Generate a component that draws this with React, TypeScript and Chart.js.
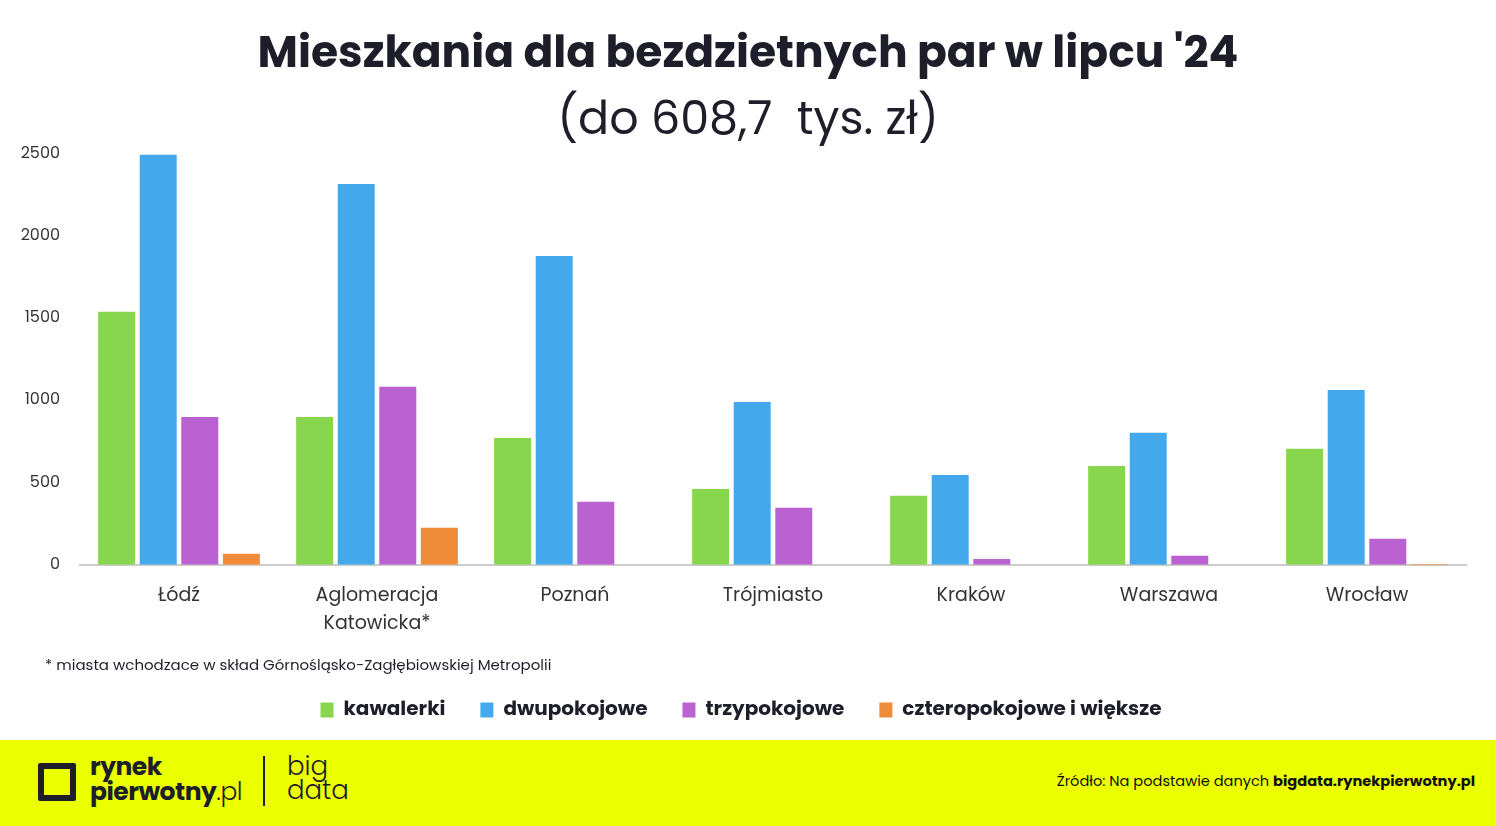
import React, { useEffect, useRef } from "react";
import { Chart, registerables } from "chart.js";

Chart.register(...registerables);

const categories: (string | string[])[] = ["Łódź", ["Aglomeracja", "Katowicka*"], "Poznań", "Trójmiasto", "Kraków", "Warszawa", "Wrocław"];
const kawalerki = [1540, 900, 772, 462, 420, 602, 706];
const dwupokojowe = [2495, 2318, 1880, 991, 547, 803, 1064];
const trzypokojowe = [900, 1083, 383, 347, 36, 55, 158];
const czteropokojowe = [67, 225, 0, 0, 0, 0, 5];
const yTicks = [0, 500, 1000, 1500, 2000, 2500];

const FONT = "Poppins, 'Open Sans', Inter, sans-serif";

const legendShift = {
  id: "legendShift",
  afterLayout(chart: any) {
    if (chart.legend) {
      chart.legend.left -= 7;
      chart.legend.right -= 7;
    }
  },
};

export default function App() {
  const ref = useRef<HTMLCanvasElement | null>(null);
  useEffect(() => {
    document.body.style.margin = "0";
    const chart = new Chart(ref.current!, {
      type: "bar",
      data: {
        labels: categories,
        datasets: [
          { label: "kawalerki", data: kawalerki, backgroundColor: "#88d64d" },
          { label: "dwupokojowe", data: dwupokojowe, backgroundColor: "#44a9ec" },
          { label: "trzypokojowe", data: trzypokojowe, backgroundColor: "#bb62d2" },
          { label: "czteropokojowe i większe", data: czteropokojowe, backgroundColor: "#f08c38" },
        ],
      },
      plugins: [legendShift],
      options: {
        animation: false,
        responsive: false,
        maintainAspectRatio: false,
        layout: { padding: { left: 30, right: 30, top: 16, bottom: 10 } },
        datasets: { bar: { categoryPercentage: 0.84, barPercentage: 0.89 } },
        plugins: {
          title: {
            display: true,
            text: "Mieszkania dla bezdzietnych par w lipcu '24",
            color: "#1e1e2a",
            font: { family: FONT, size: 44, weight: "bold" },
            padding: { top: 14, bottom: 10 },
          },
          subtitle: {
            display: true,
            text: "(do 608,7  tys. zł)",
            color: "#1e1e2a",
            font: { family: FONT, size: 46, weight: "normal" },
            padding: { top: 2, bottom: 4 },
          },
          legend: {
            position: "bottom",
            title: { display: true, text: "", font: { size: 1 }, padding: { top: 8, bottom: 0 } },
            labels: {
              boxWidth: 13,
              boxHeight: 15,
              padding: 35,
              color: "#1e1e2a",
              font: { family: FONT, size: 20, weight: "bold" },
            },
          },
          tooltip: { enabled: false },
        },
        scales: {
          x: {
            grid: { display: false, drawTicks: false },
            border: { color: "#cccccc", width: 2 },
            ticks: { color: "#333333", font: { family: FONT, size: 19, lineHeight: 1.5 }, padding: 17 },
          },
          y: {
            min: 0,
            max: 2500,
            afterBuildTicks: (axis: any) => {
              axis.ticks = yTicks.map((v) => ({ value: v }));
            },
            afterFit: (axis: any) => {
              axis.width = 50;
              axis._computeLabelArea = () => undefined;
            },
            grid: { display: false, drawTicks: false },
            border: { display: false },
            ticks: {
              color: "#333333",
              font: { family: FONT, size: 16 },
              padding: 20,
              callback: (v: any) => String(v),
            },
          },
        },
      },
    });
    return () => chart.destroy();
  }, []);

  return (
    <div style={{ position: "relative", width: 1496, height: 826, background: "#fff", overflow: "hidden", fontFamily: FONT }}>
      <canvas ref={ref} width={1496} height={740} style={{ position: "absolute", left: 0, top: 0 }} />
      <div style={{ position: "absolute", left: 45, top: 653, fontSize: 15, color: "#1e1e2a" }}>
        * miasta wchodzace w skład Górnośląsko-Zagłębiowskiej Metropolii
      </div>
      <div style={{ position: "absolute", left: 0, top: 740, width: 1496, height: 86, background: "#ebff00" }}>
        <div style={{ position: "absolute", left: 38, top: 23, width: 26, height: 26, border: "6px solid #1e1e2a", borderRadius: 2 }} />
        <div style={{ position: "absolute", left: 90, top: 14, fontSize: 25, lineHeight: "25px", fontWeight: 700, color: "#1e1e2a", letterSpacing: -0.5 }}>
          rynek
          <br />
          pierwotny<span style={{ fontWeight: 300 }}>.pl</span>
        </div>
        <div style={{ position: "absolute", left: 263, top: 16, width: 1.5, height: 50, background: "#1e1e2a" }} />
        <div style={{ position: "absolute", left: 287, top: 14, fontSize: 26, lineHeight: "24px", fontWeight: 300, color: "#1e1e2a" }}>
          big
          <br />
          data
        </div>
        <div style={{ position: "absolute", right: 21, top: 31, fontSize: 14.6, color: "#111" }}>
          Źródło: Na podstawie danych <b>bigdata.rynekpierwotny.pl</b>
        </div>
      </div>
    </div>
  );
}
